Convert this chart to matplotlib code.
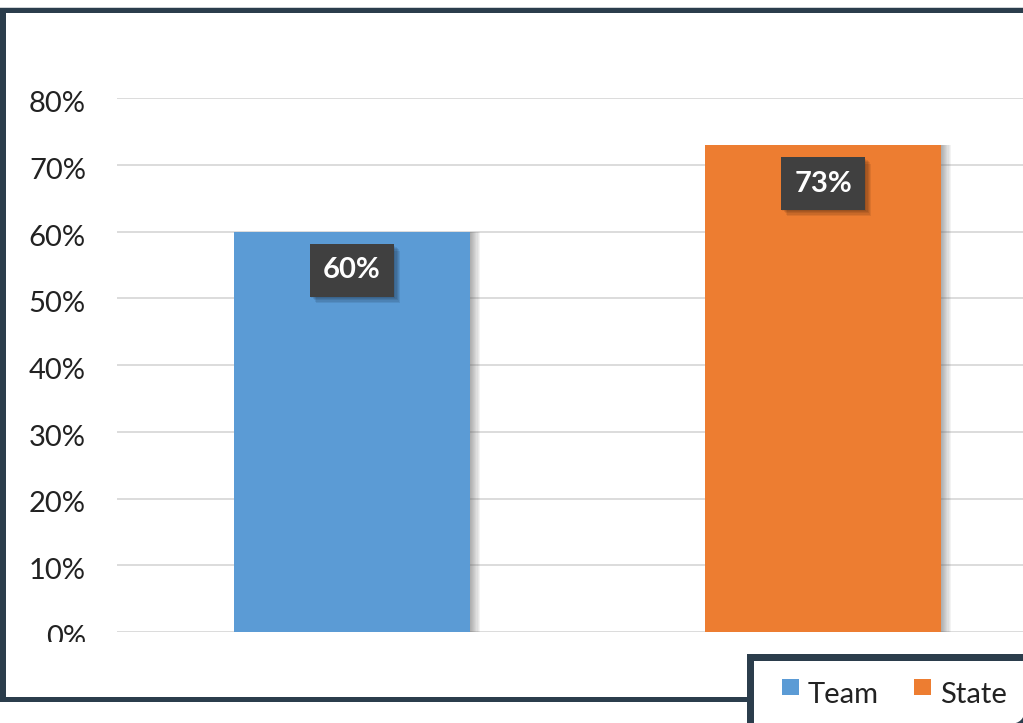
import matplotlib
matplotlib.use("Agg")
import matplotlib.pyplot as plt
from matplotlib.patches import Rectangle, FancyBboxPatch
import matplotlib.patheffects as pe
import matplotlib.transforms as mtransforms

categories = ["Team", "State"]
values = [0.60, 0.73]
value_labels = ["60%", "73%"]
colors = ["#5b9bd5", "#ed7d31"]
yticks = [0, 0.1, 0.2, 0.3, 0.4, 0.5, 0.6, 0.7, 0.8]
ytick_labels = ["0%", "10%", "20%", "30%", "40%", "50%", "60%", "70%", "80%"]

W, H = 1023, 723
FONT = ["Lato", "DejaVu Sans"]
DARK = "#2b3d4c"

fig = plt.figure(figsize=(W / 100, H / 100), dpi=100)
fig.patch.set_facecolor("white")

def fx(px):
    return px / W

def fy(py):
    return 1 - py / H

ax = fig.add_axes([fx(116.5), fy(632), fx(1058.5) - fx(116.5), fy(98) - fy(632)])
ax.set_facecolor("none")
x = list(range(len(categories)))
bars = ax.bar(x, values, width=0.5, color=colors, zorder=3)
bar_fx = [pe.SimplePatchShadow(offset=(k * 0.8, -0.3), shadow_rgbFace="#606060", alpha=0.07) for k in range(9, 0, -1)]
bar_fx.append(pe.Normal())
for b in bars:
    b.set_path_effects(bar_fx)

ax.set_xlim(-0.5, 1.5)
ax.set_ylim(0, 0.8)
ax.set_yticks(yticks)
ax.set_yticklabels(ytick_labels, fontsize=21, family=FONT, color="#222222")
ax.set_xticks([])
ax.tick_params(axis="y", length=0, pad=22)
off = mtransforms.ScaledTranslation(0, -3.5 / 100, fig.dpi_scale_trans)
for lab in ax.get_yticklabels():
    lab.set_transform(lab.get_transform() + off)
for s in ax.spines.values():
    s.set_visible(False)
ax.yaxis.grid(True, color="#d9d9d9", linewidth=1.3, zorder=0)
ax.set_axisbelow(True)

lab_fx = [pe.SimplePatchShadow(offset=(k * 0.9, -k * 0.9), shadow_rgbFace="#000000", alpha=0.08) for k in range(5, 0, -1)]
lab_fx.append(pe.Normal())
for i, (v, lab) in enumerate(zip(values, value_labels)):
    t = ax.annotate(lab, xy=(i, v), xytext=(0, -28), textcoords="offset points",
                    ha="center", va="center", fontsize=21, fontweight="bold",
                    family=FONT, color="white", zorder=5,
                    bbox=dict(boxstyle="square,pad=0.45", facecolor="#404040", edgecolor="none"))
    t.get_bbox_patch().set_path_effects(lab_fx)

# clip 0% label bottom (white cover)
fig.patches.append(Rectangle((fx(10), fy(697)), fx(100), fy(641.5) - fy(697),
                             transform=fig.transFigure, facecolor="white", edgecolor="none", zorder=10))

# frame
fig.patches.append(Rectangle((0, fy(8)), 1, fy(6.5) - fy(8), transform=fig.transFigure,
                             facecolor="#cfd3d6", edgecolor="none", zorder=11))
fig.patches.append(Rectangle((0, fy(12.5)), 1, fy(8) - fy(12.5), transform=fig.transFigure,
                             facecolor=DARK, edgecolor="none", zorder=11))
fig.patches.append(Rectangle((0, fy(702)), fx(6), fy(8) - fy(702), transform=fig.transFigure,
                             facecolor=DARK, edgecolor="none", zorder=11))
fig.patches.append(Rectangle((0, fy(702)), fx(760), fy(697) - fy(702), transform=fig.transFigure,
                             facecolor=DARK, edgecolor="none", zorder=11))

# legend box
fig.patches.append(Rectangle((fx(747), 0), 1 - fx(747), fy(654), transform=fig.transFigure,
                             facecolor=DARK, edgecolor="none", zorder=12))
r = 16
fig.patches.append(FancyBboxPatch((754, H - 724), 1025 - 754, 724 - 661,
                                  boxstyle=f"round,pad=0,rounding_size={r}", transform=None,
                                  facecolor="white", edgecolor="none", zorder=12.1))
fig.patches.append(Rectangle((fx(754), fy(704)), 1.01 - fx(754), fy(661) - fy(704),
                             transform=fig.transFigure, facecolor="white", edgecolor="none", zorder=12.2))
fig.patches.append(Rectangle((fx(754), 0), fx(990) - fx(754), fy(661),
                             transform=fig.transFigure, facecolor="white", edgecolor="none", zorder=12.2))

leg_items = [(categories[0], colors[0], 782, 808), (categories[1], colors[1], 914, 940)]
for name, c, sq_x, tx in leg_items:
    fig.patches.append(Rectangle((fx(sq_x), fy(695)), fx(17), fy(679) - fy(695), transform=fig.transFigure,
                                 facecolor=c, edgecolor="none", zorder=13))
    fig.text(fx(tx), fy(703), name, fontsize=21, family=FONT, color="#222222",
             ha="left", va="baseline", zorder=13)

fig.savefig("out.png", dpi=100)
